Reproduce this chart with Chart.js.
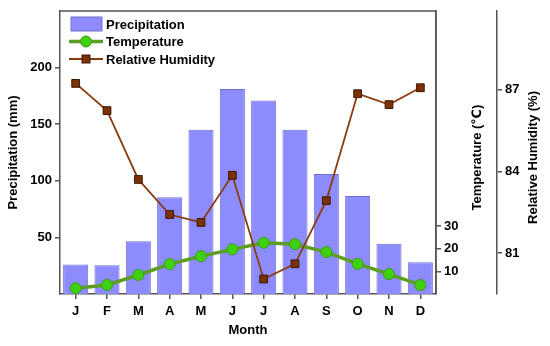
<!DOCTYPE html>
<html>
<head>
<meta charset="utf-8">
<script src="https://cdn.jsdelivr.net/npm/chart.js@4/dist/chart.umd.min.js"></script>
<style>
  html, body { margin: 0; padding: 0; background: #fff; }
  #wrap { width: 550px; height: 346px; }
</style>
</head>
<body>
<div id="wrap"><canvas id="climateChart" width="550" height="346"></canvas></div>
<script>
// --- DATA ---
const months = ['J', 'F', 'M', 'A', 'M', 'J', 'J', 'A', 'S', 'O', 'N', 'D'];
const precipitation = [26, 25.5, 46.5, 85.5, 145, 181, 171, 145, 106, 86.5, 44.5, 28];
const temperature = [2.5, 4, 8.4, 13.2, 16.7, 19.7, 22.6, 22, 18.5, 13.3, 8.8, 4];
const humidity = [87.24, 86.24, 83.71, 82.42, 82.13, 83.86, 80.05, 80.61, 82.93, 86.86, 86.46, 87.08];
const precipTicks = [50, 100, 150, 200];
const tempTicks = [10, 20, 30];
const humidityTicks = [81, 84, 87];

const FONT_FAMILY = '"Liberation Sans", Arial, "DejaVu Sans", sans-serif';
const boldFont = { family: FONT_FAMILY, size: 13, weight: 'bold' };
const axisColor = '#555';

// common axis look
function axisStyle(extra) {
    return Object.assign({
        grid: { display: true, drawOnChartArea: false, tickLength: 5, color: axisColor, lineWidth: 1.5 },
        border: { display: true, color: axisColor, width: 1.5 },
        ticks: { color: '#000', font: boldFont, padding: 3 }
    }, extra);
}

// frame, legend inside plot and the upward-reading right titles
const extras = {
    id: 'extras',
    afterDraw(chart) {
        const ctx = chart.ctx;
        const a = chart.chartArea;
        ctx.save();

        // top + right frame
        ctx.strokeStyle = axisColor;
        ctx.lineWidth = 1.5;
        ctx.beginPath();
        ctx.moveTo(a.left, a.top);
        ctx.lineTo(a.right, a.top);
        ctx.lineTo(a.right, a.bottom);
        ctx.stroke();

        // legend
        const ds = chart.data.datasets;
        const lx = a.left + 11, ly = a.top + 13, rowH = 17.5;
        ctx.font = 'bold 13px ' + FONT_FAMILY;
        ctx.textBaseline = 'middle';
        ctx.textAlign = 'left';
        ds.forEach((d, i) => {
            const y = ly + i * rowH;
            if (d.type === 'bar') {
                ctx.fillStyle = d.backgroundColor;
                ctx.fillRect(lx, y - 7, 31, 14);
                ctx.strokeStyle = d.borderColor;
                ctx.lineWidth = 1;
                ctx.strokeRect(lx, y - 7, 31, 14);
            } else {
                ctx.strokeStyle = d.borderColor;
                ctx.lineWidth = d.borderWidth;
                ctx.beginPath();
                ctx.moveTo(lx - 2, y);
                ctx.lineTo(lx + 32, y);
                ctx.stroke();
                ctx.fillStyle = d.pointBackgroundColor;
                ctx.strokeStyle = d.pointBorderColor;
                ctx.lineWidth = 1;
                if (d.pointStyle === 'rect') {
                    ctx.fillRect(lx + 11, y - 4, 8, 8);
                    ctx.strokeRect(lx + 11, y - 4, 8, 8);
                } else {
                    ctx.beginPath();
                    ctx.arc(lx + 15, y, 5.5, 0, Math.PI * 2);
                    ctx.fill();
                    ctx.stroke();
                }
            }
            ctx.fillStyle = '#000';
            ctx.fillText(d.label, lx + 35, y + 1);
        });

        // right axis titles, reading bottom to top
        const titles = [['y1', 'Temperature (\u2103)', 41], ['y2', 'Relative Humidity (%)', 36]];
        titles.forEach(([id, text, off]) => {
            const s = chart.scales[id];
            ctx.save();
            ctx.translate(s.left + off, (a.top + a.bottom) / 2 + 5);
            ctx.rotate(-Math.PI / 2);
            ctx.textAlign = 'center';
            ctx.fillStyle = '#000';
            ctx.fillText(text, 0, 0);
            ctx.restore();
        });
        ctx.restore();
    }
};

new Chart(document.getElementById('climateChart'), {
    data: {
        labels: months,
        datasets: [
            {
                type: 'bar',
                label: 'Precipitation',
                data: precipitation,
                yAxisID: 'y',
                backgroundColor: '#8c8cff',
                borderColor: '#6e6ed2',
                borderWidth: 1,
                barPercentage: 0.8,
                categoryPercentage: 1,
                order: 3
            },
            {
                type: 'line',
                label: 'Temperature',
                data: temperature,
                yAxisID: 'y1',
                borderColor: '#5c9e22',
                borderWidth: 3.5,
                pointRadius: 5.5,
                pointBackgroundColor: '#3fd010',
                pointBorderColor: '#3a9e12',
                pointBorderWidth: 1,
                tension: 0,
                order: 2
            },
            {
                type: 'line',
                label: 'Relative Humidity',
                data: humidity,
                yAxisID: 'y2',
                borderColor: '#8a3c10',
                borderWidth: 1.8,
                pointStyle: 'rect',
                pointRadius: 5.5,
                pointBackgroundColor: '#7b3005',
                pointBorderColor: '#3e1a04',
                pointBorderWidth: 1,
                tension: 0,
                order: 1
            }
        ]
    },
    options: {
        responsive: false,
        animation: false,
        layout: { padding: { top: 11, left: 0, right: 0, bottom: 0 } },
        plugins: { legend: { display: false }, tooltip: { enabled: false } },
        scales: {
            x: axisStyle({
                offset: true,
                grid: { display: true, offset: false, drawOnChartArea: false, tickLength: 5, color: axisColor, lineWidth: 1.5 },
                ticks: { color: '#000', font: boldFont, padding: 5 },
                title: { display: true, text: 'Month', color: '#000', font: boldFont, padding: { top: 0, bottom: 8 } },
                afterFit(s) { s.height = 52; }
            }),
            y: axisStyle({
                position: 'left',
                min: 0, max: 250,
                afterBuildTicks(s) { s.ticks = precipTicks.map(v => ({ value: v })); },
                title: { display: true, text: 'Precipitation (mm)', color: '#000', font: boldFont, padding: { top: 6, bottom: 0 } },
                afterFit(s) { s.width = 60; }
            }),
            y1: axisStyle({
                position: 'right',
                min: 0, max: 125,
                afterBuildTicks(s) { s.ticks = tempTicks.map(v => ({ value: v })); },
                afterFit(s) { s.width = 61; }
            }),
            y2: axisStyle({
                position: 'right',
                min: 79.5, max: 89.9,
                afterBuildTicks(s) { s.ticks = humidityTicks.map(v => ({ value: v })); },
                afterFit(s) { s.width = 53; }
            })
        }
    },
    plugins: [extras]
});
</script>
</body>
</html>
